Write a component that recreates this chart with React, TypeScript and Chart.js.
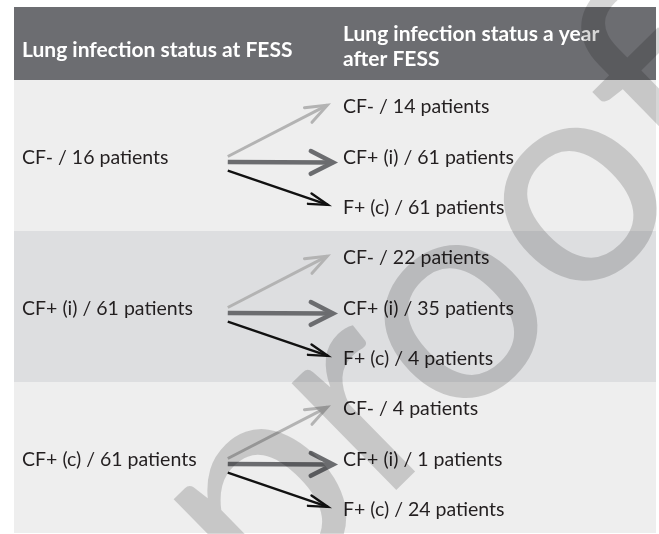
import React, { useEffect, useRef } from "react";
import { Chart, registerables } from "chart.js";

Chart.register(...registerables);

// ---- data ----
const headerLeft = "Lung infection status at FESS";
const headerRight = ["Lung infection status a year", "after FESS"];
const fromStatus = ["CF-", "CF+ (i)", "CF+ (c)"];
const fromPatients = [16, 61, 61];
const toStatus = ["CF-", "CF+ (i)", "F+ (c)"];
const toPatientsFromCFneg = [14, 61, 61];
const toPatientsFromCFi = [22, 35, 4];
const toPatientsFromCFc = [4, 1, 24];
const toPatients = [toPatientsFromCFneg, toPatientsFromCFi, toPatientsFromCFc];
const watermarkText = "proof";

// ---- styles ----
const W = 659;
const H = 534;
const HEADER_H = 73;
const HEADER_BG = "#6c6d71";
const BAND_LIGHT = "#eeeeee";
const BAND_DARK = "#dddee0";
const TEXT_COLOR = "#231f20";
const BODY_FONT = "19.5px Lato";
const HEAD_FONT = "bold 21px Lato";
const LEFT_TEXT_X = 1.25; // % of table width
const RIGHT_TEXT_X = 51.25;
const ARROW_START_X = 33.3;
const arrowEndX = [48.8, 49.7, 48.9];
const arrowColors = ["#b3b3b3", "#6b6c6f", "#111111"];
const arrowWidths = [3, 4.5, 2.4];
const arrowStartOffset = [0.02, 0.13, 0.3];
const arrowEndOffset = [0.0, 0.14, -0.02];
const headLen = [23, 25, 20];
const headAngle = [21, 27, 16];

const slots = toStatus.length;

function buildDatasets() {
  const ds: any[] = [];
  fromStatus.forEach((_, i) => {
    toStatus.forEach((__, j) => {
      const rowCenter = i * slots + slots / 2;
      const target = i * slots + j + 0.5;
      ds.push({
        label: `${fromStatus[i]} -> ${toStatus[j]}`,
        data: [
          { x: ARROW_START_X, y: rowCenter + arrowStartOffset[j] },
          { x: arrowEndX[j], y: target + arrowEndOffset[j] },
        ],
        borderColor: arrowColors[j],
        borderWidth: arrowWidths[j],
        pointRadius: 0,
        borderCapStyle: "butt",
        tension: 0,
        fill: false,
        _kind: j,
      });
    });
  });
  return ds;
}

const tablePlugin = {
  id: "flowTable",
  beforeDatasetsDraw(chart: any) {
    const { ctx, chartArea: ca, scales } = chart;
    const x = scales.x;
    const y = scales.y;
    ctx.save();
    ctx.fillStyle = HEADER_BG;
    ctx.fillRect(ca.left, ca.top - HEADER_H, ca.right - ca.left, HEADER_H);
    fromStatus.forEach((_, i) => {
      const top = Math.round(y.getPixelForValue(i * slots));
      const bot = Math.round(y.getPixelForValue((i + 1) * slots));
      ctx.fillStyle = i % 2 === 1 ? BAND_DARK : BAND_LIGHT;
      ctx.fillRect(ca.left, top, ca.right - ca.left, bot - top);
    });
    ctx.fillStyle = "#ffffff";
    ctx.font = HEAD_FONT;
    ctx.textBaseline = "middle";
    ctx.textAlign = "left";
    const hTop = ca.top - HEADER_H;
    ctx.fillText(headerLeft, x.getPixelForValue(LEFT_TEXT_X), hTop + 43);
    headerRight.forEach((line, k) => {
      ctx.fillText(line, x.getPixelForValue(RIGHT_TEXT_X), hTop + 27 + k * 25);
    });
    ctx.fillStyle = TEXT_COLOR;
    ctx.font = BODY_FONT;
    fromStatus.forEach((s, i) => {
      const yc = y.getPixelForValue(i * slots + slots / 2) + 2;
      ctx.fillText(`${s} / ${fromPatients[i]} patients`, x.getPixelForValue(LEFT_TEXT_X), yc);
      toStatus.forEach((t, j) => {
        const yt = y.getPixelForValue(i * slots + j + 0.5) + 2;
        ctx.fillText(`${t} / ${toPatients[i][j]} patients`, x.getPixelForValue(RIGHT_TEXT_X), yt);
      });
    });
    ctx.restore();
  },
  afterDatasetsDraw(chart: any) {
    const { ctx } = chart;
    ctx.save();
    chart.data.datasets.forEach((d: any, di: number) => {
      const meta = chart.getDatasetMeta(di);
      const p0 = meta.data[0];
      const p1 = meta.data[1];
      const k = d._kind;
      const ang = Math.atan2(p1.y - p0.y, p1.x - p0.x);
      const a = (headAngle[k] * Math.PI) / 180;
      const L = headLen[k];
      ctx.strokeStyle = arrowColors[k];
      ctx.lineWidth = arrowWidths[k];
      ctx.lineCap = "round";
      ctx.lineJoin = "miter";
      ctx.beginPath();
      ctx.moveTo(p1.x - L * Math.cos(ang - a), p1.y - L * Math.sin(ang - a));
      ctx.lineTo(p1.x, p1.y);
      ctx.lineTo(p1.x - L * Math.cos(ang + a), p1.y - L * Math.sin(ang + a));
      ctx.stroke();
    });
    ctx.restore();
  },
  afterDraw(chart: any) {
    const { ctx } = chart;
    ctx.save();
    ctx.fillStyle = "rgba(0,0,0,0.16)";
    ctx.font = "295px Lato";
    ctx.textBaseline = "alphabetic";
    ctx.textAlign = "left";
    // anchor: centre of the first "o" of the watermark
    const pre = ctx.measureText("pr").width;
    const mo = ctx.measureText("o");
    const cx = pre + mo.width / 2;
    const cy = -(mo.actualBoundingBoxAscent - mo.actualBoundingBoxDescent) / 2;
    ctx.translate(466, 318);
    ctx.rotate((-44.5 * Math.PI) / 180);
    ctx.fillText(watermarkText, -cx, -cy);
    ctx.restore();
  },
};

export default function App() {
  const ref = useRef<HTMLCanvasElement>(null);
  useEffect(() => {
    if (!ref.current) return;
    const chart = new Chart(ref.current, {
      type: "line",
      data: { datasets: buildDatasets() },
      options: {
        responsive: false,
        animation: false,
        devicePixelRatio: 1,
        layout: { padding: { left: 14, right: 3, top: 80, bottom: 1 } },
        scales: {
          x: { type: "linear", min: 0, max: 100, display: false },
          y: { type: "linear", min: 0, max: slots * fromStatus.length, reverse: true, display: false },
        },
        plugins: { legend: { display: false }, tooltip: { enabled: false } },
      },
      plugins: [tablePlugin],
    } as any);
    return () => chart.destroy();
  }, []);
  return (
    <div style={{ position: "absolute", left: 0, top: 0, width: W, height: H }}>
      <canvas ref={ref} width={W} height={H} />
    </div>
  );
}
